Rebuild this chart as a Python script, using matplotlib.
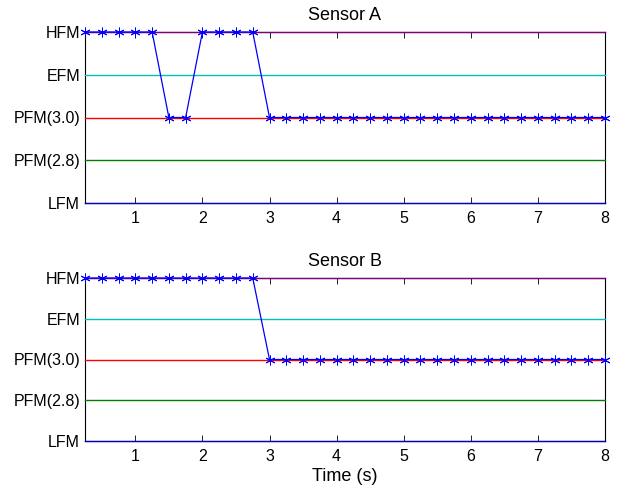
import numpy as np
import matplotlib
matplotlib.use("Agg")
import matplotlib.pyplot as plt

plt.rcParams['font.family'] = ['Liberation Sans', 'DejaVu Sans']

time = [0.25 * i for i in range(1, 33)]
level_labels = ["LFM", "PFM(2.8)", "PFM(3.0)", "EFM", "HFM"]
level_values = [0, 1, 2, 3, 4]
level_colors = ["#0000bf", "#008000", "#ff0000", "#00bfbf", "#800080"]

sensor_a = [4, 4, 4, 4, 4, 2, 2, 4, 4, 4, 4] + [2] * 21
sensor_b = [4] * 11 + [2] * 21

fig = plt.figure(figsize=(6.24, 4.93), dpi=100)
axA = fig.add_axes([85/624, 1-203/493, 520/624, 171/493])
axB = fig.add_axes([85/624, 1-441/493, 520/624, 163/493])

for ax, data, title in [(axA, sensor_a, "Sensor A"), (axB, sensor_b, "Sensor B")]:
    for v, c in zip(level_values, level_colors):
        ax.plot([time[0], time[-1]], [v, v], color=c, lw=1.0, zorder=3, clip_on=False)
    ax.plot(time, data, color="#0000ff", lw=0.9, marker=(6, 2, 0), ms=7,
            markeredgewidth=0.7, zorder=4, clip_on=False)
    ax.set_xlim(0.25, 8)
    ax.set_ylim(0, 4)
    ax.set_yticks(level_values)
    ax.set_yticklabels(level_labels)
    ax.set_xticks(range(1, 9))
    ax.tick_params(direction="in", length=4, labelsize=11.5, width=0.6, top=True, right=True)
    ax.tick_params(axis="x", pad=6)
    for s in ax.spines.values():
        s.set_linewidth(0.8)
    ax.set_title(title, fontsize=13, pad=9)

axB.set_xlabel("Time (s)", fontsize=13, labelpad=3)
fig.savefig("out.png", dpi=100)
